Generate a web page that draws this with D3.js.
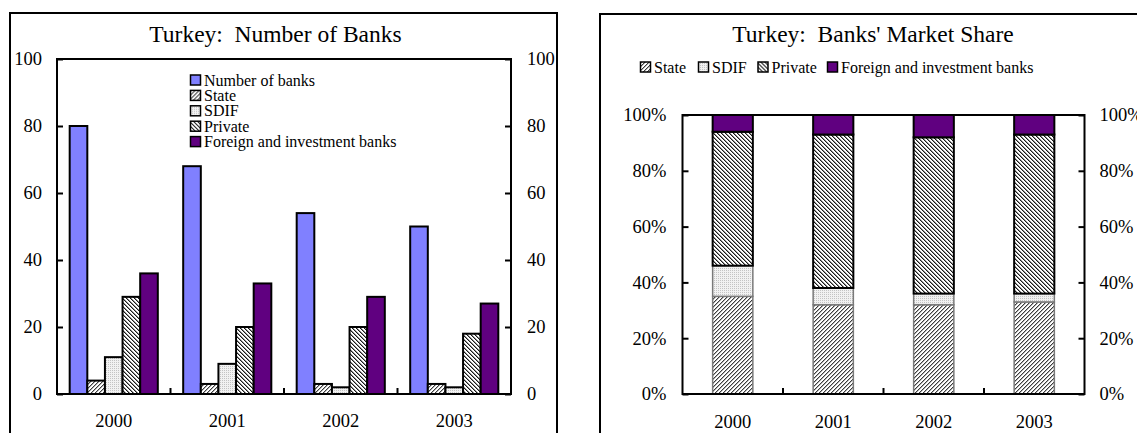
<!DOCTYPE html>
<html>
<head>
<meta charset="utf-8">
<script src="https://cdn.jsdelivr.net/npm/d3@7"></script>
<style>
  html, body { margin: 0; padding: 0; background: #fff; }
  svg { display: block; }
  svg text { font-family: "Liberation Serif", "Times New Roman", serif; fill: #000; white-space: pre; }
</style>
</head>
<body>
<svg id="chart" width="1137" height="433"></svg>
<script>
// ---- data ----
const years = ["2000", "2001", "2002", "2003"];

// Number of banks by ownership
const countSeries = ["Number of banks", "State", "SDIF", "Private", "Foreign and investment banks"];
const numberOfBanks = [80, 68, 54, 50];
const stateBanks = [4, 3, 3, 3];
const sdifBanks = [11, 9, 2, 2];
const privateBanks = [29, 20, 20, 18];
const foreignBanks = [36, 33, 29, 27];
const countTicks = [0, 20, 40, 60, 80, 100];

// Market share (percent of total assets)
const shareSeries = ["State", "SDIF", "Private", "Foreign and investment banks"];
const stateShare = [35, 32, 32, 33];
const sdifShare = [11, 6, 4, 3];
const privateShare = [48, 55, 56, 57];
const foreignShare = [6, 7, 8, 7];
const shareTicks = [0, 20, 40, 60, 80, 100];

// ---- setup ----
const svg = d3.select("#chart");
svg.append("rect").attr("width", 1137).attr("height", 433).attr("fill", "#fff");

const defs = svg.append("defs");

function pixelPattern(id, size, bg, pixels) {
  const p = defs.append("pattern")
    .attr("id", id).attr("patternUnits", "userSpaceOnUse")
    .attr("width", size).attr("height", size);
  p.append("rect").attr("width", size).attr("height", size).attr("fill", bg);
  pixels.forEach(([x, y, c]) => p.append("rect")
    .attr("x", x).attr("y", y).attr("width", 1).attr("height", 1).attr("fill", c));
}
// upward diagonal hatching
pixelPattern("pat-state", 4, "#ffffff", [
  [3, 0, "#3c3c3c"], [2, 1, "#3c3c3c"], [1, 2, "#3c3c3c"], [0, 3, "#3c3c3c"],
  [0, 0, "#b0b0b0"], [3, 1, "#b0b0b0"], [2, 2, "#b0b0b0"], [1, 3, "#b0b0b0"]
]);
// fine dotted grid
pixelPattern("pat-sdif", 2, "#f2f2f2", [[0, 0, "#c4c4c4"]]);
// dense downward diagonal hatching
pixelPattern("pat-private", 4, "#ffffff", [
  [0, 0, "#1a1a1a"], [1, 1, "#1a1a1a"], [2, 2, "#1a1a1a"], [3, 3, "#1a1a1a"],
  [1, 0, "#909090"], [2, 1, "#909090"], [3, 2, "#909090"], [0, 3, "#909090"]
]);

const fills = {
  "Number of banks": "#8080ff",
  "State": "url(#pat-state)",
  "SDIF": "url(#pat-sdif)",
  "Private": "url(#pat-private)",
  "Foreign and investment banks": "#600080"
};

const tickFont = "18.5px";
const legendFont = "16px";
const titleFont = "23.5px";

// ---- panel frames ----
svg.append("rect").attr("x", 10).attr("y", 13).attr("width", 547).attr("height", 440)
  .attr("fill", "none").attr("stroke", "#000").attr("stroke-width", 2);
svg.append("rect").attr("x", 600).attr("y", 14).attr("width", 600).attr("height", 440)
  .attr("fill", "none").attr("stroke", "#000").attr("stroke-width", 2);

function styleAxis(g) {
  g.attr("font-family", null).attr("font-size", null);
  g.select(".domain").remove();
  g.selectAll("line").attr("stroke", "#000").attr("stroke-width", 2);
  g.selectAll("text").attr("fill", "#000").style("font-size", tickFont);
}

// ================= Left: number of banks =================
{
  const left = 57, right = 511, top = 59, bottom = 394;
  const g = svg.append("g");

  g.append("text").attr("x", 275.5).attr("y", 41.5).attr("text-anchor", "middle")
    .style("font-size", titleFont).text("Turkey:  Number of Banks");

  const x = d3.scaleBand().domain(years).range([left, right]);
  const xs = d3.scaleBand().domain(countSeries).range([0, x.bandwidth()])
    .paddingInner(0).paddingOuter(0.72);
  const y = d3.scaleLinear().domain([0, 100]).range([bottom, top]);

  const values = {
    "Number of banks": numberOfBanks,
    "State": stateBanks,
    "SDIF": sdifBanks,
    "Private": privateBanks,
    "Foreign and investment banks": foreignBanks
  };
  const rows = [];
  years.forEach((yr, i) => countSeries.forEach(s => rows.push({ year: yr, series: s, value: values[s][i] })));

  g.append("g").selectAll("rect").data(rows).join("rect")
    .attr("x", d => x(d.year) + xs(d.series))
    .attr("width", xs.bandwidth())
    .attr("y", d => y(d.value))
    .attr("height", d => y(0) - y(d.value))
    .attr("fill", d => fills[d.series])
    .attr("stroke", "#000").attr("stroke-width", 2);

  // plot box
  g.append("rect").attr("x", left).attr("y", top).attr("width", right - left).attr("height", bottom - top)
    .attr("fill", "none").attr("stroke", "#000").attr("stroke-width", 2);

  g.append("g").attr("transform", `translate(${left},0)`)
    .call(d3.axisLeft(y).tickValues(countTicks).tickSize(-6).tickPadding(15))
    .call(styleAxis);
  g.append("g").attr("transform", `translate(${right},0)`)
    .call(d3.axisRight(y).tickValues(countTicks).tickSize(-6).tickPadding(16))
    .call(styleAxis);
  g.append("g").attr("transform", `translate(0,${bottom})`)
    .call(d3.axisBottom(x).tickSize(0).tickPadding(20))
    .call(styleAxis);
  // category separators
  g.append("g").selectAll("line").data(years.slice(1)).join("line")
    .attr("x1", d => x(d)).attr("x2", d => x(d))
    .attr("y1", bottom).attr("y2", bottom - 6)
    .attr("stroke", "#000").attr("stroke-width", 2);

  // legend
  const lg = g.append("g").attr("transform", "translate(190,80)");
  const item = lg.selectAll("g").data(countSeries).join("g")
    .attr("transform", (d, i) => `translate(0,${i * 15.4})`);
  item.append("rect").attr("x", 0.5).attr("y", -5).attr("width", 10).attr("height", 10)
    .attr("fill", d => fills[d]).attr("stroke", "#000").attr("stroke-width", 1.5);
  item.append("text").attr("x", 14).attr("y", 5.5).style("font-size", legendFont).text(d => d);
}

// ================= Right: market share =================
{
  const left = 682.5, right = 1084.5, top = 115, bottom = 394;
  const g = svg.append("g");

  g.append("text").attr("x", 873).attr("y", 41.5).attr("text-anchor", "middle")
    .style("font-size", titleFont).text("Turkey:  Banks' Market Share");

  const xCat = d3.scaleBand().domain(years).range([left, right]);
  const xBar = d3.scaleBand().domain(years).range([left, right]).paddingInner(0.6).paddingOuter(0.3);
  const y = d3.scaleLinear().domain([0, 100]).range([bottom, top]);

  const table = years.map((yr, i) => ({
    year: yr,
    "State": stateShare[i],
    "SDIF": sdifShare[i],
    "Private": privateShare[i],
    "Foreign and investment banks": foreignShare[i]
  }));
  const stacked = d3.stack().keys(shareSeries)(table);

  const light = k => k === "State" || k === "SDIF";
  g.append("g").selectAll("g").data(stacked).join("g")
    .attr("fill", d => fills[d.key])
    .attr("stroke", d => light(d.key) ? "#7a7a7a" : "#000")
    .attr("stroke-width", d => light(d.key) ? 1.5 : 2)
    .selectAll("rect").data(d => d).join("rect")
    .attr("x", d => xBar(d.data.year))
    .attr("width", xBar.bandwidth())
    .attr("y", d => y(d[1]))
    .attr("height", d => y(d[0]) - y(d[1]));

  g.append("rect").attr("x", left).attr("y", top).attr("width", right - left).attr("height", bottom - top)
    .attr("fill", "none").attr("stroke", "#000").attr("stroke-width", 2);

  const pct = d => d + "%";
  g.append("g").attr("transform", `translate(${left},0)`)
    .call(d3.axisLeft(y).tickValues(shareTicks).tickFormat(pct).tickSize(-6).tickPadding(16))
    .call(styleAxis);
  g.append("g").attr("transform", `translate(${right},0)`)
    .call(d3.axisRight(y).tickValues(shareTicks).tickFormat(pct).tickSize(-6).tickPadding(15))
    .call(styleAxis);
  g.append("g").attr("transform", `translate(0,${bottom})`)
    .call(d3.axisBottom(xCat).tickSize(0).tickPadding(21))
    .call(styleAxis);
  g.append("g").selectAll("line").data(years.slice(1)).join("line")
    .attr("x1", d => xCat(d)).attr("x2", d => xCat(d))
    .attr("y1", bottom).attr("y2", bottom - 6)
    .attr("stroke", "#000").attr("stroke-width", 2);

  // horizontal legend
  const legendX = [640, 698, 757.5, 827];
  const lg = g.append("g").attr("transform", "translate(0,67)");
  const item = lg.selectAll("g").data(shareSeries).join("g")
    .attr("transform", (d, i) => `translate(${legendX[i]},0)`);
  item.append("rect").attr("x", 0.5).attr("y", -5).attr("width", 10).attr("height", 10)
    .attr("fill", d => fills[d]).attr("stroke", "#000").attr("stroke-width", 1.5);
  item.append("text").attr("x", 14).attr("y", 5.5).style("font-size", legendFont).text(d => d);
}
</script>
</body>
</html>
